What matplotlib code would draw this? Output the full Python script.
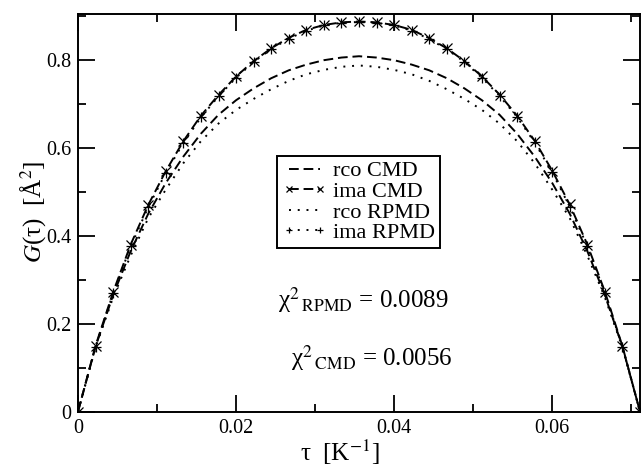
import numpy as np
import matplotlib
matplotlib.use('Agg')
import matplotlib.pyplot as plt
from matplotlib.ticker import MultipleLocator

plt.rcParams['font.family'] = ['Liberation Serif', 'DejaVu Serif']
plt.rcParams['mathtext.fontset'] = 'stix'

# imaginary-time grid (33 points from 0 to beta)
tau = np.linspace(0, 0.0712, 33)

ima_cmd = [0, 0.150, 0.272, 0.380, 0.470, 0.547, 0.615, 0.673, 0.720, 0.762, 0.797,
           0.826, 0.850, 0.868, 0.879, 0.885, 0.887, 0.885, 0.879, 0.868, 0.849, 0.826,
           0.797, 0.762, 0.721, 0.673, 0.616, 0.548, 0.471, 0.380, 0.273, 0.149, 0]
ima_rpmd = [0, 0.148, 0.269, 0.376, 0.465, 0.543, 0.611, 0.669, 0.717, 0.759, 0.795,
            0.824, 0.848, 0.866, 0.878, 0.884, 0.886, 0.884, 0.878, 0.866, 0.847, 0.824,
            0.795, 0.759, 0.718, 0.670, 0.612, 0.544, 0.466, 0.376, 0.270, 0.147, 0]
rco_cmd = [0, 0.148, 0.265, 0.365, 0.450, 0.520, 0.580, 0.632, 0.675, 0.708, 0.735,
           0.758, 0.776, 0.789, 0.799, 0.805, 0.808, 0.805, 0.799, 0.789, 0.776, 0.758,
           0.735, 0.708, 0.675, 0.632, 0.580, 0.520, 0.450, 0.365, 0.265, 0.148, 0]
rco_rpmd = [0, 0.146, 0.260, 0.355, 0.440, 0.505, 0.565, 0.615, 0.655, 0.686, 0.711,
            0.733, 0.752, 0.767, 0.777, 0.784, 0.787, 0.784, 0.777, 0.767, 0.752, 0.733,
            0.711, 0.686, 0.655, 0.615, 0.565, 0.505, 0.440, 0.355, 0.260, 0.146, 0]

chi_rpmd = 0.0089
chi_cmd = 0.0056

W, H = 641, 467
fig = plt.figure(figsize=(W / 100, H / 100), dpi=100)
ax = fig.add_axes([78 / W, 1 - 411.7 / H, (640 - 78) / W, (411.7 - 14) / H])

lw = 1.4
ax.plot(tau, rco_cmd, color='black', lw=lw, dashes=(5, 2.5), label='rco CMD')
ax.plot(tau, ima_cmd, color='black', lw=lw, dashes=(5, 2.5), marker='x', ms=6.5, mew=0.9,
        label='ima CMD')
ax.plot(tau, rco_rpmd, color='black', lw=lw, dashes=(1, 3.5), label='rco RPMD')
ax.plot(tau, ima_rpmd, color='black', lw=lw, dashes=(1, 3.5), marker='+', ms=7.5, mew=0.9,
        label='ima RPMD')

ax.set_xlim(0, 0.0712)
ax.set_ylim(0, 0.904)
ax.xaxis.set_major_locator(MultipleLocator(0.02))
ax.xaxis.set_minor_locator(MultipleLocator(0.01))
ax.yaxis.set_major_locator(MultipleLocator(0.2))
ax.yaxis.set_minor_locator(MultipleLocator(0.1))
ax.xaxis.set_major_formatter(plt.FuncFormatter(lambda v, p: '0' if v == 0 else f'{v:g}'))
ax.yaxis.set_major_formatter(plt.FuncFormatter(lambda v, p: '0' if v == 0 else f'{v:g}'))
ax.tick_params(which='both', direction='in', top=True, right=True, width=1.3,
               labelsize=14.5, colors='black')
ax.tick_params(which='major', length=12, pad=5)
ax.tick_params(which='minor', length=6)
for s in ax.spines.values():
    s.set_linewidth(1.4)

fig.text(340 / W, 1 - 452 / H, 'τ  [K$^{-1}$]', ha='center', va='center', fontsize=18)
fig.text(33 / W, 1 - 212 / H, '$G$(τ)  [Å$^{2}$]', ha='center', va='center',
         rotation=90, fontsize=18)

fig.text(278 / W, 1 - 308 / H, r'χ$^{2}{}_{\,\mathrm{RPMD}}$' + f' = {chi_rpmd}',
         ha='left', va='baseline', fontsize=18)
fig.text(291 / W, 1 - 366 / H, r'χ$^{2}{}_{\,\mathrm{CMD}}$' + f' = {chi_cmd}',
         ha='left', va='baseline', fontsize=18)

leg = ax.legend(loc='upper left', bbox_to_anchor=(277 / W, 1 - 156 / H),
                bbox_transform=fig.transFigure, fontsize=16, numpoints=2,
                markerscale=0.6, handlelength=2.0, handletextpad=0.3,
                labelspacing=0.0, borderpad=0.22, borderaxespad=0, fancybox=False,
                framealpha=1, edgecolor='black')
leg.get_frame().set_linewidth(1.4)

fig.savefig('out.png', dpi=100)
